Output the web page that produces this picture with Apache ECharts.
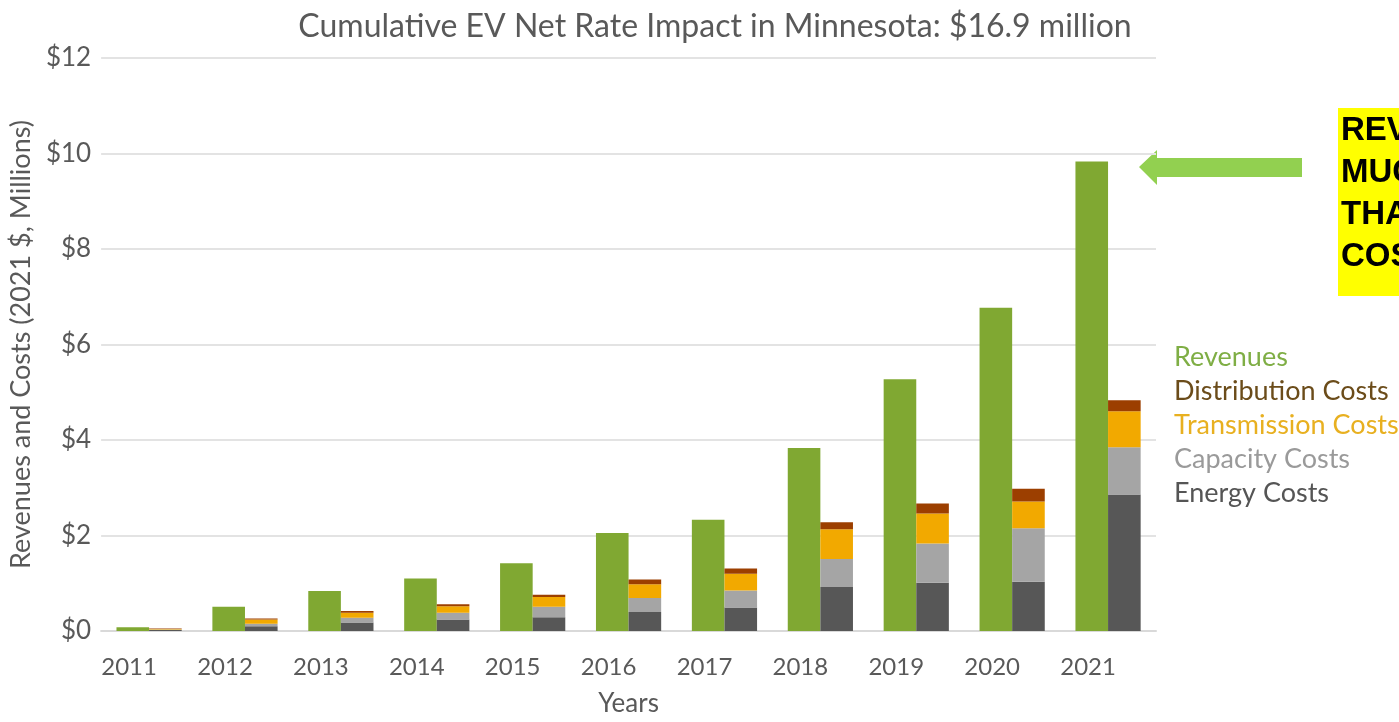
<!DOCTYPE html>
<html>
<head>
<meta charset="utf-8">
<script src="https://cdn.jsdelivr.net/npm/echarts@6/dist/echarts.min.js"></script>
<style>html,body{margin:0;padding:0;background:#fff}#c{width:1399px;height:722px}</style>
</head>
<body>
<div id="c"></div>
<script>
var years = ['2011','2012','2013','2014','2015','2016','2017','2018','2019','2020','2021'];
var revenues     = [0.08, 0.51, 0.84, 1.10, 1.42, 2.05, 2.33, 3.83, 5.27, 6.77, 9.83];
var energyCosts  = [0.02, 0.10, 0.18, 0.24, 0.29, 0.40, 0.49, 0.92, 1.01, 1.03, 2.86];
var capacityCosts= [0.01, 0.05, 0.10, 0.14, 0.22, 0.29, 0.36, 0.59, 0.82, 1.12, 0.99];
var transCosts   = [0.01, 0.09, 0.10, 0.14, 0.20, 0.29, 0.35, 0.62, 0.63, 0.56, 0.75];
var distCosts    = [0.01, 0.02, 0.04, 0.04, 0.05, 0.10, 0.11, 0.15, 0.21, 0.27, 0.23];
var yTicks = [0, 2, 4, 6, 8, 10, 12];

var FONT = 'Lato';
var chart = echarts.init(document.getElementById('c'));
chart.setOption({
  backgroundColor: '#fff',
  animation: false,
  title: {
    text: 'Cumulative EV Net Rate Impact in Minnesota: $16.9 million',
    left: 710, top: 6, textAlign: 'center',
    textStyle: {fontFamily: FONT, fontSize: 32, fontWeight: 'normal', color: '#595959'}
  },
  legend: {
    orient: 'vertical', left: 1164, top: 339,
    itemWidth: 0, itemHeight: 0, itemGap: 7, icon: 'rect',
    textStyle: {fontFamily: FONT, fontSize: 27, lineHeight: 27},
    data: [
      {name: 'Revenues', textStyle: {color: '#7fae45'}},
      {name: 'Distribution Costs', textStyle: {color: '#6b4c1a'}},
      {name: 'Transmission Costs', textStyle: {color: '#e8b020'}},
      {name: 'Capacity Costs', textStyle: {color: '#9a9a9a'}},
      {name: 'Energy Costs', textStyle: {color: '#555555'}}
    ]
  },
  grid: {left: 99, right: 243, top: 58, bottom: 88},
  xAxis: {
    type: 'category', data: years,
    name: 'Years', nameLocation: 'middle', nameGap: 60,
    nameTextStyle: {fontFamily: FONT, fontSize: 26, color: '#595959'},
    axisLine: {lineStyle: {color: '#d9d9d9', width: 2}},
    axisTick: {show: false},
    axisLabel: {fontFamily: FONT, fontSize: 24, color: '#595959', margin: 24, padding: [0, 40, 0, 0]}
  },
  yAxis: {
    type: 'value', min: yTicks[0], max: yTicks[yTicks.length - 1], interval: 2,
    name: 'Revenues and Costs (2021 $, Millions)', nameLocation: 'middle', nameGap: 63,
    nameTextStyle: {fontFamily: FONT, fontSize: 27, color: '#595959'},
    axisLine: {show: false}, axisTick: {show: false},
    axisLabel: {fontFamily: FONT, fontSize: 26, color: '#595959', margin: 10,
      formatter: function (v) { return '$' + v; }},
    splitLine: {lineStyle: {color: '#e3e3e3', width: 2}}
  },
  series: [
    {name: 'Revenues', type: 'bar', stack: 'rev', data: revenues, itemStyle: {color: '#80a832'},
     barGap: '0%', barCategoryGap: '32%'},
    {name: 'Energy Costs', type: 'bar', stack: 'cost', data: energyCosts, itemStyle: {color: '#575757'}},
    {name: 'Capacity Costs', type: 'bar', stack: 'cost', data: capacityCosts, itemStyle: {color: '#a5a5a5'}},
    {name: 'Transmission Costs', type: 'bar', stack: 'cost', data: transCosts, itemStyle: {color: '#f2a900'}},
    {name: 'Distribution Costs', type: 'bar', stack: 'cost', data: distCosts, itemStyle: {color: '#9c3f00'}}
  ],
  graphic: [
    {type: 'polygon', shape: {points: [[1139,167],[1157,150],[1157,158],[1302,158],[1302,177],[1157,177],[1157,185]]},
     style: {fill: '#92d050'}},
    {type: 'rect', shape: {x: 1338, y: 108, width: 80, height: 188}, style: {fill: '#ffff00'}},
    {type: 'text', left: 1341, top: 110,
     style: {text: 'REVENUES\nMUCH\nTHAN\nCOSTS', fill: '#000', font: 'bold 33px "Liberation Sans"', lineHeight: 42}}
  ]
});
</script>
</body>
</html>
